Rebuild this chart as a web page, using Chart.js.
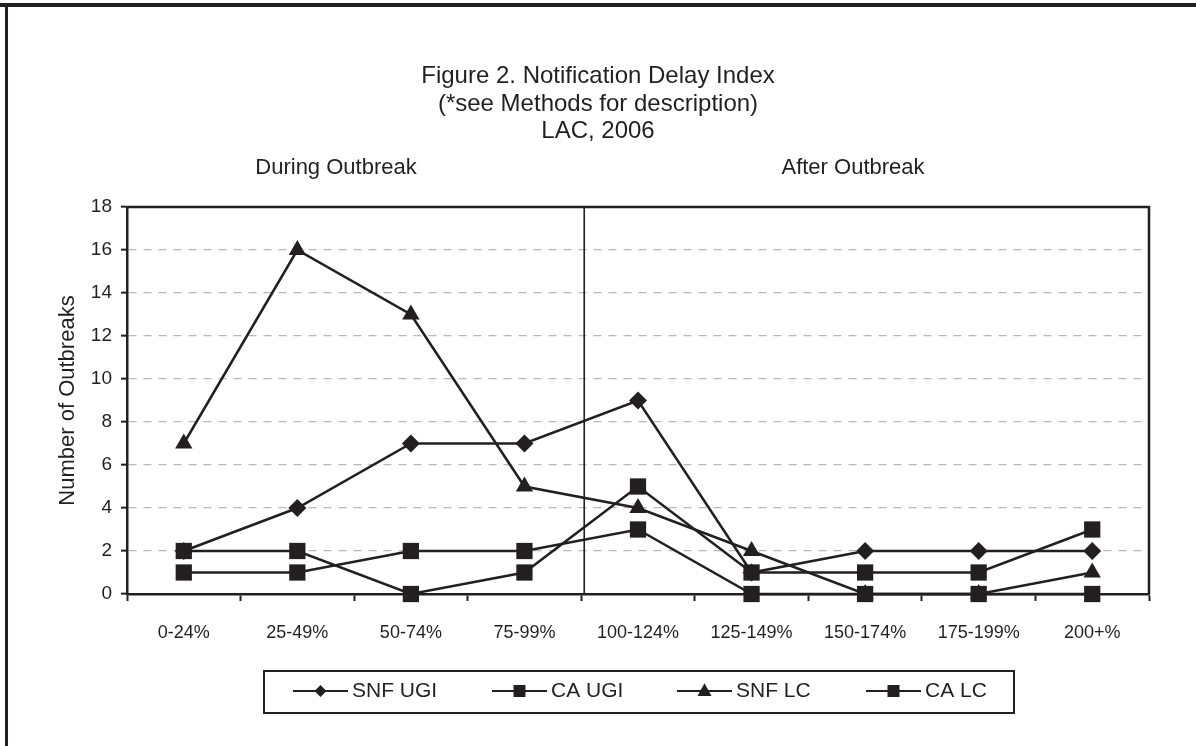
<!DOCTYPE html>
<html><head><meta charset="utf-8">
<script src="https://cdn.jsdelivr.net/npm/chart.js@4/dist/chart.umd.min.js"></script>
<style>html,body{margin:0;padding:0;background:#fff;overflow:hidden}</style>
</head><body>
<canvas id="c" width="1196" height="746" style="display:block;width:1196px;height:746px"></canvas>
<script>
const categories = ['0-24%','25-49%','50-74%','75-99%','100-124%','125-149%','150-174%','175-199%','200+%'];
const snfUgi = [2,4,7,7,9,1,2,2,2];
const caUgi  = [2,2,0,1,5,1,1,1,3];
const snfLc  = [7,16,13,5,4,2,0,0,1];
const caLc   = [1,1,2,2,3,0,0,0,0];
const seriesNames = ['SNF UGI','CA UGI','SNF LC','CA LC'];
const seriesMarkers = ['rectRot','rect','triangle','rect'];
const yMin = 0, yMax = 18, yStep = 2;
const titleLines = ['Figure 2. Notification Delay Index','(*see Methods for description)','LAC, 2006'];
const sectionLabels = ['During Outbreak','After Outbreak'];
const yAxisTitle = 'Number of Outbreaks';
const dividerAfterIndex = 3;

const INK = '#231f20';
const FONT = "'Liberation Sans', Arial, sans-serif";
const radii = {rectRot: 9, rect: 11.5, triangle: 10};
const drawOrder = {rectRot: 3, triangle: 2, rect: 1};
const seriesValues = [snfUgi, caUgi, snfLc, caLc];

function drawMarker(ctx, style, x, y, s) {
  ctx.beginPath();
  if (style === 'rectRot') {
    ctx.moveTo(x, y - s); ctx.lineTo(x + s, y); ctx.lineTo(x, y + s); ctx.lineTo(x - s, y);
  } else if (style === 'rect') {
    ctx.rect(x - s, y - s, 2 * s, 2 * s);
  } else {
    ctx.moveTo(x, y - s * 1.1); ctx.lineTo(x + s, y + s * 0.7); ctx.lineTo(x - s, y + s * 0.7);
  }
  ctx.closePath();
  ctx.fill();
}

const decor = {
  id: 'decor',
  beforeDraw(chart) {
    const ctx = chart.ctx;
    ctx.save();
    ctx.fillStyle = '#fff';
    ctx.fillRect(0, 0, chart.width, chart.height);
    ctx.fillStyle = INK;
    ctx.fillRect(0, 3, chart.width, 4);
    ctx.fillRect(5, 3, 3, chart.height);
    ctx.restore();
  },
  beforeDatasetsDraw(chart) {
    const ctx = chart.ctx, a = chart.chartArea, xs = chart.scales.x;
    ctx.save();
    ctx.strokeStyle = INK;
    ctx.lineWidth = 2.5;
    ctx.beginPath();
    ctx.moveTo(a.left, a.top); ctx.lineTo(a.right, a.top); ctx.lineTo(a.right, a.bottom);
    ctx.stroke();
    const xd = (xs.getPixelForValue(dividerAfterIndex) + xs.getPixelForValue(dividerAfterIndex + 1)) / 2 + 3;
    ctx.lineWidth = 1.6;
    ctx.beginPath();
    ctx.moveTo(xd, a.top); ctx.lineTo(xd, a.bottom);
    ctx.stroke();
    ctx.restore();
  },
  afterDraw(chart) {
    const ctx = chart.ctx;
    ctx.save();
    ctx.fillStyle = INK;
    ctx.textAlign = 'center';
    ctx.textBaseline = 'middle';
    ctx.font = '24px ' + FONT;
    const ty = [76, 104, 131];
    titleLines.forEach((t, i) => ctx.fillText(t, 598, ty[i]));
    ctx.font = '22px ' + FONT;
    ctx.fillText(sectionLabels[0], 336, 168);
    ctx.fillText(sectionLabels[1], 853, 168);
    // legend
    ctx.strokeStyle = INK;
    ctx.lineWidth = 2;
    ctx.strokeRect(264, 671, 750, 42);
    const lx = [293, 492, 677, 866];
    ctx.font = '21px ' + FONT;
    ctx.textAlign = 'left';
    const ly = 691;
    const lr = {rectRot: 6, rect: 6, triangle: 7};
    seriesNames.forEach((n, i) => {
      ctx.lineWidth = 2.2;
      ctx.beginPath(); ctx.moveTo(lx[i], ly); ctx.lineTo(lx[i] + 55, ly); ctx.stroke();
      drawMarker(ctx, seriesMarkers[i], lx[i] + 27.5, ly, lr[seriesMarkers[i]]);
      ctx.fillText(n, lx[i] + 59, ly);
    });
    ctx.restore();
  }
};

const datasets = seriesNames.map((n, i) => ({
  label: n,
  data: seriesValues[i],
  order: drawOrder[seriesMarkers[i]],
  borderColor: INK,
  backgroundColor: INK,
  borderWidth: 2.5,
  pointStyle: seriesMarkers[i],
  pointRadius: radii[seriesMarkers[i]],
  pointBackgroundColor: INK,
  pointBorderColor: INK,
  pointBorderWidth: 0,
  tension: 0,
  fill: false,
  clip: false
}));

new Chart(document.getElementById('c'), {
  type: 'line',
  data: { labels: categories, datasets },
  options: {
    responsive: false,
    animation: false,
    devicePixelRatio: 1,
    layout: { padding: { left: 0, top: 207, right: 47, bottom: 0 } },
    plugins: { legend: { display: false }, title: { display: false }, tooltip: { enabled: false } },
    scales: {
      x: {
        type: 'category',
        offset: true,
        afterFit(s) { s.height = 152; },
        grid: { offset: true, drawOnChartArea: false, drawTicks: true, tickLength: 7, tickColor: INK, tickWidth: 2 },
        border: { display: true, color: INK, width: 2.5 },
        ticks: { color: INK, font: { family: FONT, size: 18 }, padding: 21, maxRotation: 0, autoSkip: false }
      },
      y: {
        min: yMin, max: yMax,
        afterFit(s) { s.width = 127; },
        grid: { color: '#b8b8b8', lineWidth: 1.3, drawTicks: true, tickLength: 6, tickColor: INK, tickWidth: 2 },
        border: { display: true, color: INK, width: 2.5, dash: [8, 7] },
        ticks: { stepSize: yStep, color: INK, font: { family: FONT, size: 19 }, padding: 9 },
        title: { display: true, text: yAxisTitle, color: INK, font: { family: FONT, size: 22 }, padding: { top: 55, bottom: 0 } }
      }
    }
  },
  plugins: [decor]
});
</script>
</body></html>
